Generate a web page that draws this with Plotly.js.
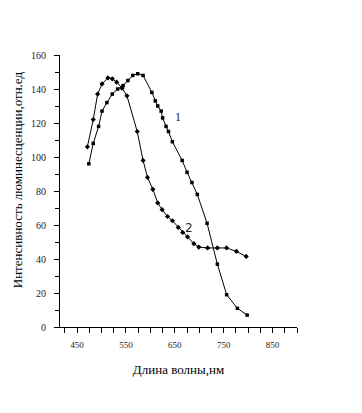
<!DOCTYPE html>
<html>
<head>
<meta charset="utf-8">
<script src="https://cdn.plot.ly/plotly-3.0.1.min.js"></script>
<style>html,body{margin:0;padding:0;background:#fff;}#chart{width:362px;height:413px;}</style>
</head>
<body>
<div id="chart"></div>
<script>
// Curve 1 (square markers)
const wavelength1 = [474, 483, 494, 501, 511, 522, 533, 544, 554, 564, 574, 585, 603, 610, 615, 622, 625, 632, 637, 645, 665, 675, 685, 696, 716, 737, 756, 778, 798];
const intensity1  = [96, 108, 118, 127, 132, 137, 140, 142, 145, 148, 149, 148, 138, 133, 130, 127, 123, 118, 115, 109, 98, 91, 85, 78, 61, 37, 19, 11, 7];
// Curve 2 (small diamond markers)
const wavelength2 = [471, 483, 492, 501, 513, 522, 531, 542, 552, 573, 585, 594, 605, 615, 624, 635, 645, 657, 666, 676, 689, 699, 717, 737, 756, 776, 796];
const intensity2  = [106, 122, 137, 143, 146.5, 146, 144, 140.5, 136, 115, 98, 88, 81, 73, 69, 65, 62.5, 58.6, 55.6, 53, 49, 47, 46.5, 46.5, 46.5, 44.5, 41.5];
const curveLabels = ['1', '2'];
const labelPos = [[657, 123.5], [678, 58]];
const xTickVals = [450, 550, 650, 750, 850];
const yTickVals = [0, 20, 40, 60, 80, 100, 120, 140, 160];
const xTitle = 'Длина волны,нм';
const yTitle = 'Интенсивность люминесценции,отн.ед';

const serif = 'Liberation Serif, Times New Roman, serif';
const traces = [
  {x: wavelength1, y: intensity1, mode: 'lines+markers', type: 'scatter',
   line: {color: '#000', width: 1}, marker: {symbol: 'square', size: 3.5, color: '#000'}},
  {x: wavelength2, y: intensity2, mode: 'lines+markers', type: 'scatter',
   line: {color: '#000', width: 1}, marker: {symbol: 'diamond', size: 4, color: '#000'}}
];
const annotations = curveLabels.map((t, i) => ({
  x: labelPos[i][0], y: labelPos[i][1], xref: 'x', yref: 'y', text: t, showarrow: false,
  font: {family: i === 0 ? serif : 'DejaVu Sans, sans-serif', size: 12, color: '#222'}
}));
annotations.push({
  x: -0.181, y: 0.54, xref: 'paper', yref: 'paper', xanchor: 'center', yanchor: 'middle',
  text: yTitle, textangle: -90, showarrow: false,
  font: {family: serif, size: 13, color: '#000'}
});
const layout = {
  width: 362, height: 413,
  margin: {l: 60, r: 65, t: 55, b: 86},
  paper_bgcolor: '#fff', plot_bgcolor: '#fff',
  showlegend: false,
  font: {family: serif, color: '#000'},
  xaxis: {
    range: [415, 900], showgrid: false, zeroline: false,
    showline: true, linecolor: '#000', linewidth: 1,
    tickmode: 'array', tickvals: xTickVals, ticktext: xTickVals.map(String),
    ticks: 'outside', ticklen: 5, tickcolor: '#000', tickwidth: 1,
    minor: {dtick: 25, tick0: 425, ticks: 'outside', ticklen: 5, tickcolor: '#000', tickwidth: 1, showgrid: false},
    tickfont: {family: serif, size: 9, color: '#222'},
    ticklabelstandoff: 4,
    title: {text: xTitle, font: {family: serif, size: 13, color: '#000'}, standoff: 16}
  },
  yaxis: {
    range: [0, 160], showgrid: false, zeroline: false,
    showline: true, linecolor: '#000', linewidth: 1,
    tickmode: 'array', tickvals: yTickVals, ticktext: yTickVals.map(String),
    ticks: 'outside', ticklen: 5, tickcolor: '#000', tickwidth: 1,
    minor: {dtick: 10, ticks: 'outside', ticklen: 4, tickcolor: '#000', tickwidth: 1, showgrid: false},
    tickfont: {family: serif, size: 10, color: '#222'},
    ticklabelstandoff: 6
  },
  annotations: annotations
};
Plotly.newPlot('chart', traces, layout, {displayModeBar: false, staticPlot: true});
</script>
</body>
</html>
